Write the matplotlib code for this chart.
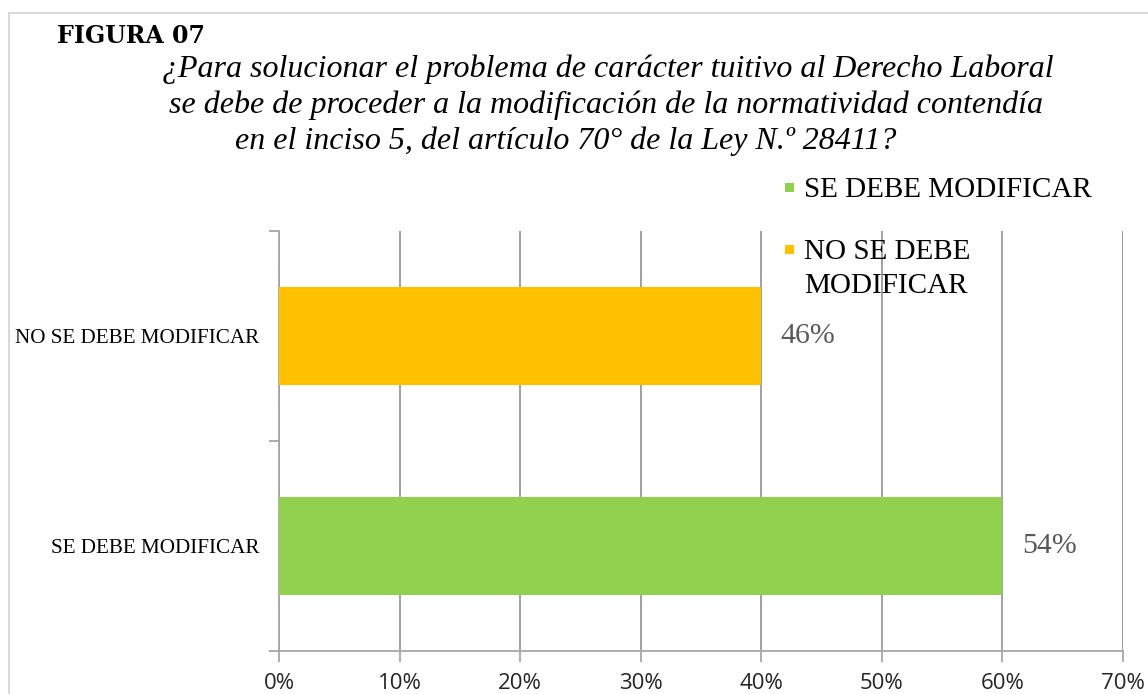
import matplotlib
matplotlib.use("Agg")
import matplotlib.pyplot as plt
from matplotlib.patches import Rectangle
from matplotlib.ticker import PercentFormatter

# ---- data ----
categories = ["SE DEBE MODIFICAR", "NO SE DEBE MODIFICAR"]
bar_values = [60, 40]                 # bar lengths as drawn (%)
bar_labels = ["54%", "46%"]           # data labels as printed
bar_colors = ["#92D050", "#FFC000"]
legend_labels = ["SE DEBE MODIFICAR", "NO SE DEBE\nMODIFICAR"]
x_ticks = [0, 10, 20, 30, 40, 50, 60, 70]
fig_label = "FIGURA 07"
title_lines = [
    "¿Para solucionar el problema de carácter tuitivo al Derecho Laboral",
    "se debe de proceder a la modificación de la normatividad contendía",
    "en el inciso 5, del artículo 70° de la Ley N.º 28411?",
]

W, H = 1148, 694
fig = plt.figure(figsize=(W / 100, H / 100), dpi=100)
fig.patch.set_facecolor("white")


def fx(px):
    return px / W


def fy(py):
    return 1 - py / H


# outer border
fig.patches.append(Rectangle((fx(9), -0.05), 1.1, fy(13) + 0.05,
                             transform=fig.transFigure, fill=False,
                             edgecolor="#d9d9d9", linewidth=1.5))

ax = fig.add_axes([fx(279), fy(651), (1123 - 279) / W, (651 - 231) / H])

serif = "Liberation Serif"
ypos = list(range(len(categories)))
bars = ax.barh(ypos, bar_values, height=0.47, color=bar_colors, zorder=3)
ax.bar_label(bars, labels=bar_labels, padding=14, fontsize=21.5,
             family=serif, color="#595959")

ax.set_xlim(0, 70)
ax.set_ylim(-0.5, 1.5)
ax.set_xticks(x_ticks)
ax.xaxis.set_major_formatter(PercentFormatter(xmax=100, decimals=0))
ax.set_yticks([-0.5, 0.5, 1.5])
ax.set_yticklabels([])
ax.set_yticks(ypos, minor=True)
ax.set_yticklabels(categories, minor=True, family=serif, fontsize=15.2)
ax.tick_params(axis="y", which="minor", length=0, pad=14)
ax.tick_params(axis="y", which="major", length=7, color="#a6a6a6", width=1.3)
ax.tick_params(axis="x", length=8, color="#a6a6a6", width=1.3, pad=8,
               labelsize=16, labelcolor="#262626")
for lab in ax.get_xticklabels():
    lab.set_family("Open Sans")

ax.grid(axis="x", color="#999999", linewidth=1.3, zorder=0)
ax.set_axisbelow(True)
for s in ["top", "right"]:
    ax.spines[s].set_visible(False)
for s in ["left", "bottom"]:
    ax.spines[s].set_color("#a6a6a6")
    ax.spines[s].set_linewidth(1.3)

# legend (drawn manually to match layout)
marker_tops = [183, 245]
first_baselines = [197, 259]
line_step = 34
for lab, col, mt, bl in zip(legend_labels, bar_colors, marker_tops,
                            first_baselines):
    fig.patches.append(Rectangle((fx(785), fy(mt + 9)), 9 / W, 9 / H,
                                 transform=fig.transFigure, facecolor=col,
                                 edgecolor="none"))
    for i, line in enumerate(lab.split("\n")):
        fig.text(fx(804), fy(bl + i * line_step), line, family=serif,
                 fontsize=21, ha="left", va="baseline", color="black")

# header texts
fig.text(fx(57), fy(43), fig_label, family="DejaVu Serif",
         fontweight="bold", fontsize=17, ha="left", va="baseline")
centers = [608, 606, 566]
baselines = [77, 113, 149]
for t, cx, by in zip(title_lines, centers, baselines):
    fig.text(fx(cx), fy(by), t, family=serif, style="italic",
             fontsize=23, ha="center", va="baseline")

fig.savefig("out.png", dpi=100)
